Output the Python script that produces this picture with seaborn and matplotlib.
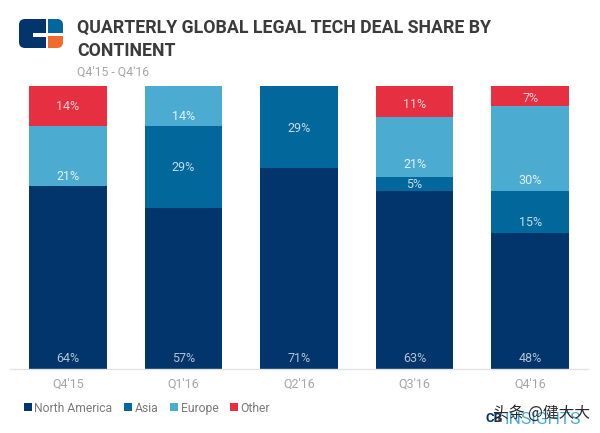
import matplotlib.pyplot as plt
import matplotlib.patches as mpatches
import numpy as np
import pandas as pd
import seaborn as sns

quarters = ["Q4'15", "Q1'16", "Q2'16", "Q3'16", "Q4'16"]
north_america = [64, 57, 71, 63, 48]
asia = [0, 29, 29, 5, 15]
europe = [21, 14, 0, 21, 30]
other = [14, 0, 0, 11, 7]

series_names = ['North America', 'Asia', 'Europe', 'Other']
series_values = [north_america, asia, europe, other]
series_colors = ['#02356b', '#02689b', '#4cabd0', '#e62f40']
label_colors = ['#b4c2d3', '#c5dbe8', '#e4f2f8', '#f8d5d8']

# the value labels are not centred in the reference, y pixel of each one
label_rows = {
    'North America': [358, 358, 358, 358, 358],
    'Asia': [None, 168, 128, 184, 222],
    'Europe': [176, 116, None, 164, 180],
    'Other': [107, None, None, 105, 98],
}

sns.set_theme(style='white')
plt.rcParams['font.family'] = ['Roboto', 'Noto Sans CJK SC', 'DejaVu Sans']

fig = plt.figure(figsize=(6, 4.33), dpi=100)
W, H = 600, 433
PLOT_TOP, PLOT_BOTTOM = 86, 369


def px_box(x0, y0, x1, y1):
    # pixel box (y from the top) to figure fractions
    return [x0 / W, 1 - y1 / H, (x1 - x0) / W, (y1 - y0) / H]


ax = fig.add_axes(px_box(10, PLOT_TOP, 588, PLOT_BOTTOM))

# every column fills the whole height, Q4'15 only adds up to 99 because of rounding
totals = np.sum(series_values, axis=0)
bottom = np.zeros(len(quarters))
for name, values, color, txt_color in zip(series_names, series_values, series_colors, label_colors):
    shares = np.array(values) / totals * 100
    df = pd.DataFrame({'quarter': quarters, 'share': shares})
    sns.barplot(data=df, x='quarter', y='share', bottom=bottom, color=color, saturation=1,
                width=0.67, label=name, linewidth=0, ax=ax)
    for i, v in enumerate(values):
        if v == 0:
            continue
        y = (PLOT_BOTTOM - label_rows[name][i]) / (PLOT_BOTTOM - PLOT_TOP) * 100
        ax.text(i, y, f'{v}%', ha='center', va='center', fontsize=9, color=txt_color)
    bottom += shares

ax.set_xlim(-0.5, 4.5)
ax.set_ylim(0, 100)
ax.set_xlabel('')
ax.set_ylabel('')
ax.set_yticks([])
ax.tick_params(axis='x', length=0, labelsize=9, labelcolor='#a5a5a5', pad=6)
sns.despine(ax=ax, left=True)
ax.spines['bottom'].set_color('#e2e2e2')
ax.spines['bottom'].set_linewidth(1)

ax.legend(loc='center left', bbox_to_anchor=(0.007, -0.138), ncol=4, frameon=False,
          fontsize=8.7, labelcolor='#7a7a7a', handlelength=0.65, handleheight=0.65,
          handletextpad=0.2, columnspacing=1.0, borderpad=0, borderaxespad=0.8)

# title block
fig.text(77 / W, 1 - 28 / H, 'QUARTERLY GLOBAL LEGAL TECH DEAL SHARE BY', fontsize=12.75,
         fontweight='bold', color='#3b3b3b', va='center')
fig.text(77 / W, 1 - 51 / H, 'CONTINENT', fontsize=12.75, fontweight='bold', color='#3b3b3b', va='center')
fig.text(77 / W, 1 - 72 / H, "Q4'15 - Q4'16", fontsize=8.8, color='#a5a5a5', va='center')

# logo, three blocks clipped to one rounded outline
logo_ax = fig.add_axes([0, 0, 1, 1], facecolor='none')
logo_ax.set_xlim(0, W)
logo_ax.set_ylim(H, 0)
logo_ax.axis('off')
outline = mpatches.FancyBboxPatch((25, 25), 32, 17, boxstyle='round,pad=6', fc='none', ec='none')
logo_ax.add_patch(outline)
for x0, y0, w, h, c in [(19, 19, 27, 29, '#02356b'), (48, 19, 15, 14, '#02689b'), (48, 36, 15, 12, '#f26b2e')]:
    block = mpatches.Rectangle((x0, y0), w, h, fc=c, ec='none')
    logo_ax.add_patch(block)
    block.set_clip_path(outline)
logo_ax.add_patch(mpatches.Rectangle((33, 33), 13, 4, fc='white', ec='none'))

# source mark and watermark, bottom right
logo_ax.text(486, 418, 'CB', fontsize=9.5, fontweight='bold', color='#02356b', va='center')
logo_ax.add_patch(mpatches.Rectangle((498, 418), 4, 4, fc='#f26b2e', ec='none'))
logo_ax.text(505, 420, 'INSIGHTS', fontsize=12.5, color='#4cabd0', va='center')
logo_ax.text(493, 413, '头条 @健大大', fontsize=11.3, color='#2a2a2a', va='center',
             family=['Noto Sans CJK SC', 'DejaVu Sans'])

fig.savefig('out.png', dpi=100)
